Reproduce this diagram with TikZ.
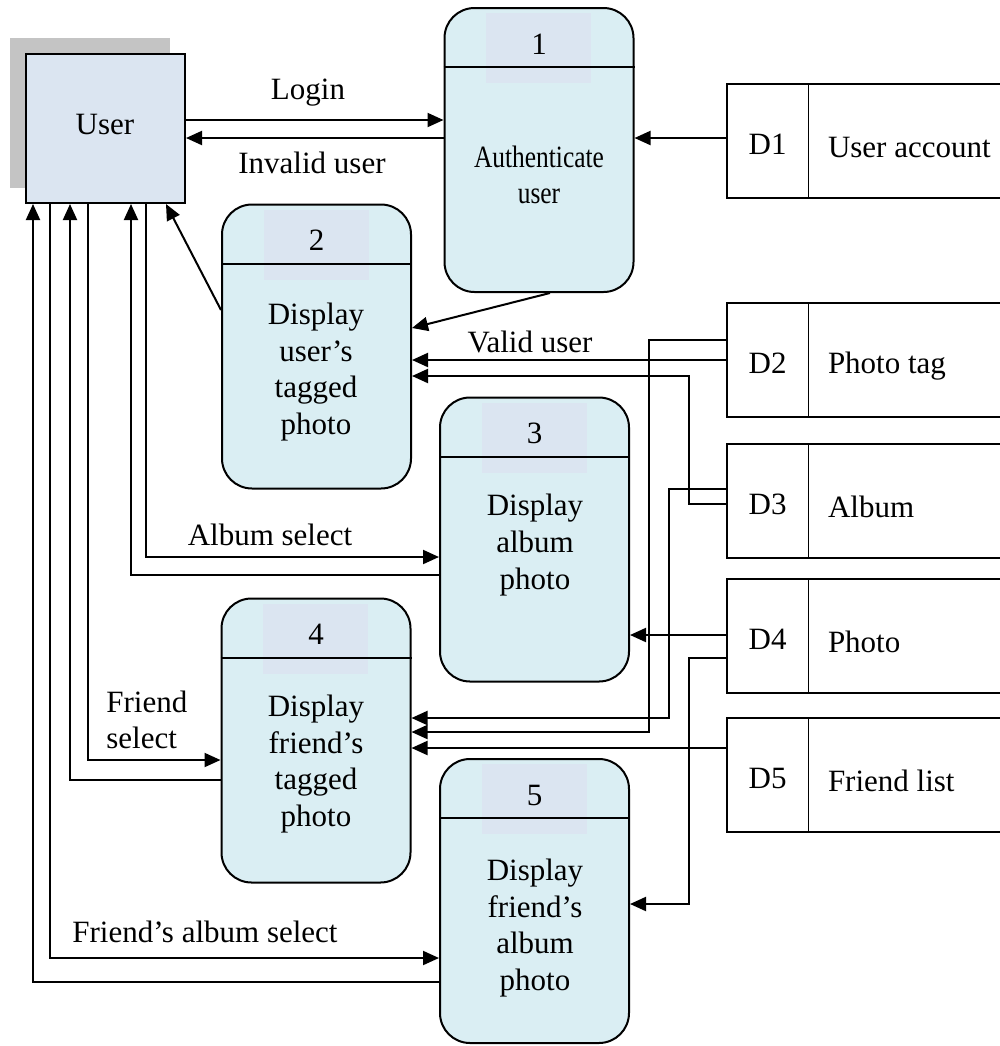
\documentclass[tikz,border=0pt]{standalone}
\usepackage{fontspec}
\setmainfont{Liberation Serif}
\usetikzlibrary{arrows.meta,calc}
\definecolor{procfill}{HTML}{DAEEF3}
\definecolor{numfill}{HTML}{DBE5F1}
\definecolor{userfill}{HTML}{DBE5F1}
\definecolor{shadowgray}{HTML}{C4C4C4}
\begin{document}
\begin{tikzpicture}[x=0.5pt,y=-0.5pt,
  font=\fontsize{15.5}{18.3}\selectfont,
  ln/.style={draw, line width=1pt},
  arr/.style={draw, line width=1pt, -{Triangle[length=8pt,width=7pt]}},
  procbox/.style={draw, line width=1pt, fill=procfill, rounded corners=15pt,
    minimum width=94.5pt, minimum height=142pt, inner sep=0pt},
  storebox/.style={minimum width=136.5pt, minimum height=57pt, inner sep=0pt},
  txt/.style={align=center, inner sep=0pt},
  lbl/.style={inner sep=0pt}
]
\useasboundingbox (0,0) rectangle (1000,1046);

% User entity with shadow
\fill[shadowgray] (10,38) rectangle (170,188);
\node[draw, line width=1pt, fill=userfill, minimum width=79.5pt, minimum height=74.5pt, inner sep=0pt] (User) at (105.5,128.5) {};
\node[lbl] (usertxt) at (105,124) {User};

% Processes
\foreach \n/\cx/\cy in {P1/539/150, P2/316.5/346.5, P3/534.5/539.5, P4/316/740.5, P5/534.5/901}{
  \node[procbox] (\n) at (\cx,\cy) {};
  \fill[numfill] ($(\n.north)+(-53,6)$) rectangle ($(\n.north)+(52,76)$);
  \draw[line width=1pt] ($(\n.north west)+(0,60)$) -- ($(\n.north east)+(0,60)$);
}
\node[lbl] (n1) at ($(P1.north)+(0,37)$) {1};
\node[lbl] (n2) at ($(P2.north)+(0,37)$) {2};
\node[lbl] (n3) at ($(P3.north)+(0,37)$) {3};
\node[lbl] (n4) at ($(P4.north)+(0,37)$) {4};
\node[lbl] (n5) at ($(P5.north)+(0,37)$) {5};

\node[txt] (t1) at (539,175) {\scalebox{0.82}[1]{Authenticate}\\\scalebox{0.82}[1]{user}};
\node[txt] (t2) at (316,372) {Display\\user’s\\tagged\\photo};
\node[txt] (t3) at (535,545) {Display\\album\\photo};
\node[txt] (t4) at (316,764) {Display\\friend’s\\tagged\\photo};
\node[txt] (t5) at (535,928) {Display\\friend’s\\album\\photo};

% Data stores
\foreach \n/\cy/\id/\name in {D1/141/D1/User account, D2/360/D2/Photo tag, D3/501/D3/Album, D4/636/D4/Photo, D5/775/D5/Friend list}{
  \node[storebox] (\n) at (863.5,\cy) {};
  \draw[line width=1pt] (\n.north east) -- (\n.north west) -- (\n.south west) -- (\n.south east);
  \draw[line width=0.6pt] ($(\n.north west)+(82,0)$) -- ($(\n.south west)+(82,0)$);
  \node[lbl] (\n id) at ($(\n.west)+(41,3)$) {\id};
  \node[lbl, anchor=west] (\n name) at ($(\n.west)+(101,6)$) {\name};
}

% Flows between user and process 1
\draw[arr] (User.east |- 0,120) -- (P1.west |- 0,120);
\draw[arr] (P1.west |- 0,138) -- (User.east |- 0,138);
\draw[arr] (D1.west |- 0,138) -- (P1.east |- 0,138);
\node[lbl] (login) at (308,93) {Login};
\node[lbl] (invalid) at (312,163) {Invalid user};

% Process 1 -> Process 2
\draw[arr] ($(P1.south)+(11,0)$) -- (P2.east |- 0,328);
% Process 2 -> User
\draw[arr] (P2.west |- 0,310) -- ($(User.south west)+(141,0)$);

% Stores to process 2
\draw[arr] (D2.west |- 0,360) -- (P2.east |- 0,360);
\node[lbl] (valid) at (530,342) {Valid user};
\draw[arr] (D3.west |- 0,504) -| (689,376) -- (P2.east |- 0,376);

% Stores to process 4
\draw[arr] (D2.west |- 0,340) -| (649,732) -- (P4.east |- 0,732);
\draw[arr] (D3.west |- 0,489) -| (669,718) -- (P4.east |- 0,718);
\draw[arr] (D5.west |- 0,748) -- (P4.east |- 0,748);

% Store 4 to process 3 and 5
\draw[arr] (D4.west |- 0,635) -- (P3.east |- 0,635);
\draw[arr] (D4.west |- 0,658) -| (689,904) -- (P5.east |- 0,904);

% User <-> processes 3,4,5
\draw[arr] ($(User.south west)+(121,0)$) |- (P3.west |- 0,557);
\draw[arr] (P3.west |- 0,575) -| ($(User.south west)+(106,0)$);
\node[lbl] (albsel) at (270,535) {Album select};

\draw[arr] ($(User.south west)+(63,0)$) |- (P4.west |- 0,760);
\draw[arr] (P4.west |- 0,780) -| ($(User.south west)+(45,0)$);
\node[lbl, align=left, anchor=west] (frsel) at (106,720) {Friend\\select};

\draw[arr] ($(User.south west)+(25,0)$) |- (P5.west |- 0,958);
\draw[arr] (P5.west |- 0,982) -| ($(User.south west)+(8,0)$);
\node[lbl] (fralb) at (205,932) {Friend’s album select};
\end{tikzpicture}
\end{document}
